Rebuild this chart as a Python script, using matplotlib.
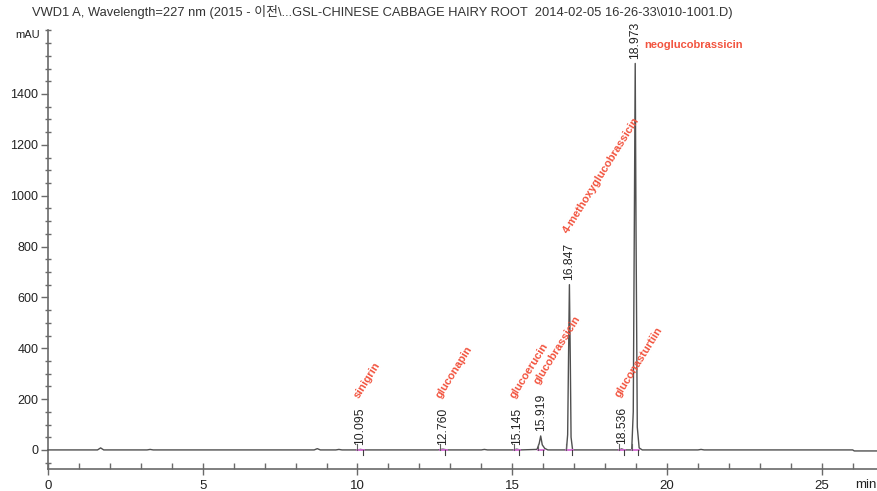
import matplotlib
matplotlib.use("Agg")
import matplotlib.pyplot as plt
from matplotlib.ticker import MultipleLocator, FixedLocator

# ---- data ----
trace_time = [0, 1.6, 1.7, 1.8, 3.2, 3.3, 3.4, 8.6, 8.7, 8.8, 9.3, 9.4, 9.5,
              10.0, 10.095, 10.2, 12.6, 12.76, 12.9, 14.0, 14.1, 14.2,
              15.05, 15.145, 15.25, 15.8, 15.87, 15.919, 15.97, 16.05, 16.1, 16.15,
              16.75, 16.79, 16.82, 16.847, 16.875, 16.9, 16.95,
              18.45, 18.536, 18.62, 18.86, 18.91, 18.945, 18.973, 19.0, 19.04, 19.1, 19.2,
              21.0, 21.1, 21.2, 26.0, 26.05, 26.82]
trace_signal = [0, 0, 8, 0, 0, 2, 0, 0, 5, 0, 0, 2, 0,
                0, 2, 0, 0, 3, 0, 0, 2, 0,
                0, 3, 0, 2, 25, 55, 20, 6, 3, 0,
                0, 60, 380, 650, 360, 50, 0,
                0, 4, 0, 0, 150, 900, 1520, 850, 90, 8, 0,
                0, 2, 0, 0, -4, -4]

peak_rt = [10.095, 12.760, 15.145, 15.919, 16.847, 18.536, 18.973]
peak_height = [2, 3, 3, 55, 650, 4, 1520]
peak_rt_labels = ["10.095", "12.760", "15.145", "15.919", "16.847", "18.536", "18.973"]
compound_names = ["sinigrin", "gluconapin", "glucoerucin", "glucobrassicin",
                  "4-methoxyglucobrassicin", "gluconasturtiin", "neoglucobrassicin"]

y_major_ticks = [0, 200, 400, 600, 800, 1000, 1200, 1400]
x_major_ticks = [0, 5, 10, 15, 20, 25]

title = ("VWD1 A, Wavelength=227 nm (2015 - 이전\\...GSL-CHINESE CABBAGE HAIRY ROOT  "
         "2014-02-05 16-26-33\\010-1001.D)")

# ---- figure ----
W, H = 878, 491
fig = plt.figure(figsize=(W / 100, H / 100), dpi=100)
plt.rcParams['font.family'] = ['Liberation Sans', 'Noto Sans CJK KR', 'DejaVu Sans']

x0_px, xscale = 48, 30.95
xmax = (W - x0_px) / xscale
ymin, ymax = -75, 1650
ax_bottom_px = 469
ax_top_px = 30.4
ax = fig.add_axes([x0_px / W, (H - ax_bottom_px) / H, 1 - x0_px / W,
                   (ax_bottom_px - ax_top_px) / H])
ax.set_xlim(0, xmax)
ax.set_ylim(ymin, ymax)

axis_col = "#6a6a6a"
for s in ["top", "right"]:
    ax.spines[s].set_visible(False)
ax.spines["left"].set_color(axis_col)
ax.spines["bottom"].set_color(axis_col)
ax.spines["left"].set_linewidth(1.2)
ax.spines["bottom"].set_linewidth(1.2)
ax.set_facecolor("white")

ax.yaxis.set_major_locator(FixedLocator(y_major_ticks))
ax.yaxis.set_minor_locator(MultipleLocator(50))
ax.xaxis.set_major_locator(FixedLocator(x_major_ticks))
ax.xaxis.set_minor_locator(MultipleLocator(1))
ax.tick_params(axis="y", which="major", direction="out", length=5, width=1,
               color=axis_col, labelsize=9, labelcolor="#222222", pad=2)
ax.tick_params(axis="y", which="minor", direction="inout", length=4, width=1, color=axis_col)
ax.tick_params(axis="x", which="major", direction="inout", length=8, width=1,
               color=axis_col, labelsize=9.5, labelcolor="#222222", pad=4)
ax.tick_params(axis="x", which="minor", direction="in", length=4, width=1, color=axis_col)

ax.plot(trace_time, trace_signal, color="#505050", lw=1.0, zorder=3, clip_on=False)

# integration markers
for rt, h in zip(peak_rt, peak_height):
    ax.plot([rt - 0.1, rt + 0.12], [0, 0], color="#d46ad4", lw=1.3, zorder=4)
    ax.plot([rt - 0.1, rt - 0.1], [0, 22], color="#606060", lw=0.8, zorder=4)
    ax.plot([rt + 0.08, rt + 0.08], [0, -18], color="#404040", lw=0.8, zorder=4)

# retention-time labels and compound names
px_per_unit = (ax_bottom_px - ax_top_px) / (ymax - ymin)
red = "#f2533e"
for i, (rt, h, lab, name) in enumerate(zip(peak_rt, peak_height, peak_rt_labels, compound_names)):
    yb = h + 18
    ax.text(rt, yb, lab, rotation=90, ha="center", va="bottom", fontsize=8.7,
            color="#222222", zorder=5)
    if i == len(peak_rt) - 1:
        ax.text(rt + 0.3, 1593, name, ha="left", va="center", fontsize=8,
                fontweight="bold", color=red, zorder=5)
    else:
        ax.text(rt, yb + 45 / px_per_unit, name, rotation=58, rotation_mode="anchor",
                ha="left", va="bottom", fontsize=8, fontweight="bold", color=red, zorder=5)

# axis captions
fig.text(28 / W, 1 - 35 / H, "mAU", ha="center", va="center", fontsize=8, color="#222222")
fig.text(855 / W, 1 - 485 / H, "min", ha="left", va="center", fontsize=9.5, color="#222222")

# title fitted to reference width
t = fig.text(32 / W, 1 - 12 / H, title, ha="left", va="center", fontsize=10, color="#333333")
fig.canvas.draw()
bb = t.get_window_extent()
t.set_fontsize(10 * 700 / bb.width)

fig.savefig("out.png", dpi=100, facecolor="white")
